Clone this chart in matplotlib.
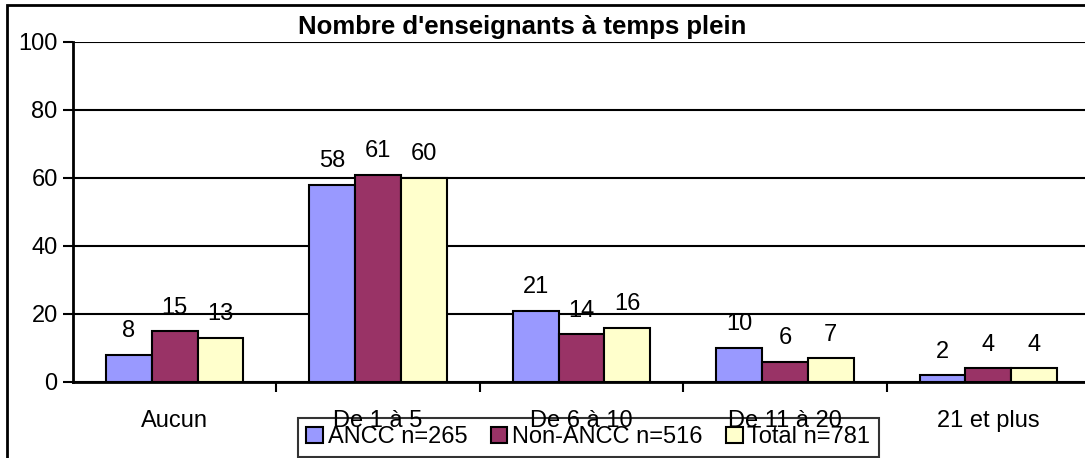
import numpy as np
import matplotlib
matplotlib.use("Agg")
import matplotlib.pyplot as plt
from matplotlib.patches import Rectangle

plt.rcParams['font.family'] = ['Liberation Sans', 'DejaVu Sans']

# data
categories = ["Aucun", "De 1 à 5", "De 6 à 10", "De 11 à 20", "21 et plus"]
ancc = [8, 58, 21, 10, 2]
non_ancc = [15, 61, 14, 6, 4]
total = [13, 60, 16, 7, 4]
series_names = ["ANCC n=265", "Non-ANCC n=516", "Total n=781"]
colors = ["#9999FF", "#993366", "#FFFFCC"]

fig = plt.figure(figsize=(10.85, 4.58), dpi=100)
# plot area runs a bit past the right edge of the picture (cropped in the original)
ax = fig.add_axes([73/1085, 1-382/458, (1090-73)/1085, (382-42)/458])

x = np.arange(len(categories))
w = 0.225
for i, (vals, name, c) in enumerate(zip([ancc, non_ancc, total], series_names, colors)):
    pos = x + (i - 1) * w
    ax.bar(pos, vals, width=w, color=c, edgecolor="black", linewidth=1.5,
           label=name, zorder=3)
    for p, v in zip(pos, vals):
        ax.annotate(str(v), (p, v), xytext=(0, 9), textcoords="offset points",
                    ha="center", va="bottom", fontsize=17)

ax.set_xlim(-0.5, len(categories) - 0.5)
ax.set_ylim(0, 100)
ax.set_yticks(range(0, 101, 20))
ax.yaxis.grid(True, color="black", linewidth=1.5, zorder=0)
ax.tick_params(axis="y", length=7, width=1.5, labelsize=17, pad=4)
ax.set_xticks(x)
ax.set_xticklabels(categories)
ax.tick_params(axis="x", which="major", length=0, labelsize=17, pad=20)
ax.set_xticks(np.arange(0.5, len(categories) - 1, 1), minor=True)
ax.tick_params(axis="x", which="minor", length=7, width=1.5)
for s in ["top", "right"]:
    ax.spines[s].set_visible(False)
for s in ["left", "bottom"]:
    ax.spines[s].set_linewidth(2)

fig.text(522/1085, 1-27/458, "Nombre d'enseignants à temps plein",
         ha="center", va="center", fontsize=18.5, fontweight="bold")

leg = fig.legend(loc="upper left", bbox_to_anchor=(298/1085, 1-418/458),
                 ncol=3, fontsize=17, frameon=True, fancybox=False,
                 handlelength=0.7, handleheight=0.7, handletextpad=0.2,
                 columnspacing=1.0, borderpad=0.35, borderaxespad=0)
leg.get_frame().set_edgecolor("black")
leg.get_frame().set_facecolor("none")
leg.get_frame().set_linewidth(1.5)
for h in leg.legend_handles:
    h.set_linewidth(1.5)

fig.patches.append(Rectangle((7/1085, -0.1), 1.2, 1.1 - 5/458,
                             transform=fig.transFigure, fill=False,
                             edgecolor="black", linewidth=2))

fig.savefig("out.png", dpi=100)
